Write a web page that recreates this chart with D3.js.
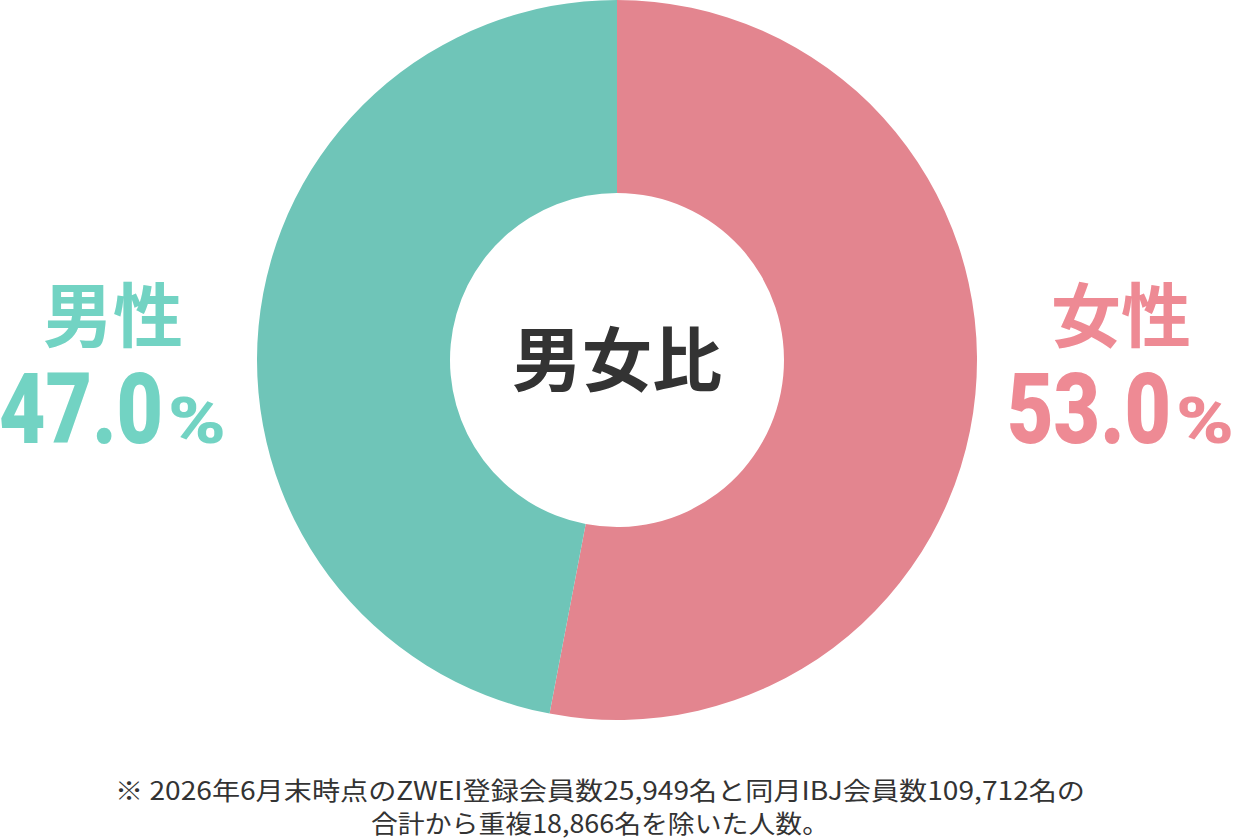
<!DOCTYPE html>
<html>
<head>
<meta charset="utf-8">
<script src="https://cdn.jsdelivr.net/npm/d3@7/dist/d3.min.js"></script>
<style>
  body { margin: 0; background: #fff; }
  svg { display: block; }
</style>
</head>
<body>
<div class="graph"></div>
<script>
// Data
var categories = ["女性", "男性"];
var shares = [53.0, 47.0];
var sliceColors = ["#e3858f", "#6fc5b8"];
var labelColors = ["#ee8a94", "#72d3c3"];
var centerTitle = "男女比";
var notes = [
  "※ 2026年6月末時点のZWEI登録会員数25,949名と同月IBJ会員数109,712名の",
  "合計から重複18,866名を除いた人数。"
];
var noteWidths = [970, 458];

// Configuration
var width = 1240, height = 840;
var cx = 617, cy = 360, outerR = 360, innerR = 167;
var labelX = [1121, 113];

var svg = d3.select(".graph").append("svg")
    .attr("width", width)
    .attr("height", height);

var data = categories.map(function(c, i) {
  return { name: c, value: shares[i], color: sliceColors[i], label: labelColors[i], lx: labelX[i] };
});

var pie = d3.pie()
    .sort(null)
    .value(function(d) { return d.value; });
var arc = d3.arc()
    .innerRadius(innerR)
    .outerRadius(outerR);

var g = svg.append("g")
    .attr("transform", "translate(" + cx + "," + cy + ")");

g.selectAll(".slice")
    .data(pie(data))
    .enter().append("path")
    .attr("class", "slice")
    .attr("d", arc)
    .style("fill", function(d) { return d.data.color; });

// center title
g.append("text")
    .attr("text-anchor", "middle")
    .attr("y", 26)
    .style("font-family", "'Noto Sans CJK JP', sans-serif")
    .style("font-weight", 700)
    .style("font-size", "70px")
    .style("fill", "#333")
    .text(centerTitle);

// side labels
var labels = svg.selectAll(".lbl")
    .data(data)
    .enter().append("g")
    .attr("class", "lbl")
    .attr("transform", function(d) { return "translate(" + d.lx + ",0)"; });

labels.append("text")
    .attr("text-anchor", "middle")
    .attr("y", 342)
    .style("font-family", "'Noto Sans CJK JP', sans-serif")
    .style("font-weight", 700)
    .style("font-size", "70px")
    .style("fill", function(d) { return d.label; })
    .text(function(d) { return d.name; });

// condensed text: squeeze to a target width
function squeeze(sel, x, anchor, target) {
  sel.each(function() {
    var w = this.getComputedTextLength();
    d3.select(this)
        .attr("text-anchor", anchor)
        .attr("transform", "translate(" + x + ",443) scale(" + (target / w) + ",1)");
  });
}

// value
labels.append("text")
    .style("font-family", "Roboto, sans-serif")
    .style("font-weight", 900)
    .style("font-size", "98px")
    .style("fill", function(d) { return d.label; })
    .text(function(d) { return d3.format(".1f")(d.value); })
    .call(squeeze, 50, "end", 164);

// percent sign
labels.append("text")
    .style("font-family", "Roboto, sans-serif")
    .style("font-weight", 900)
    .style("font-size", "64px")
    .style("fill", function(d) { return d.label; })
    .text("%")
    .call(squeeze, 55, "start", 58);

// footnote
svg.selectAll(".note")
    .data(notes)
    .enter().append("text")
    .attr("class", "note")
    .attr("text-anchor", "middle")
    .attr("x", 600)
    .attr("y", function(d, i) { return 800 + i * 33; })
    .attr("textLength", function(d, i) { return noteWidths[i]; })
    .attr("lengthAdjust", "spacingAndGlyphs")
    .style("font-family", "'Noto Sans CJK JP', sans-serif")
    .style("font-size", "25px")
    .style("fill", "#333")
    .text(function(d) { return d; });
</script>
</body>
</html>
